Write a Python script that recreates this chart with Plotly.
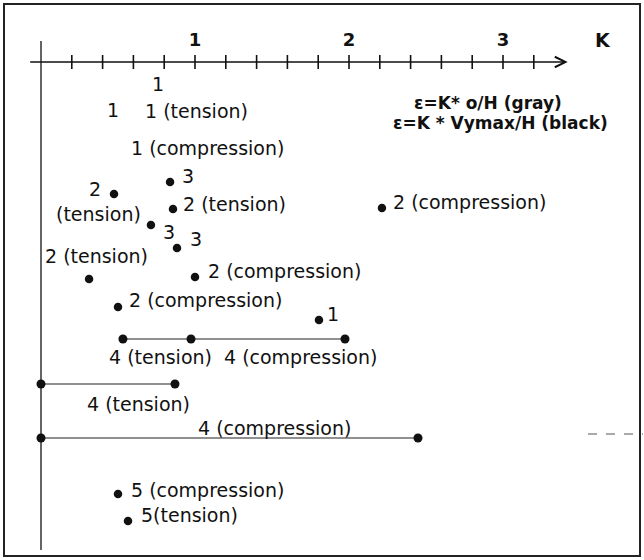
import plotly.graph_objects as go

# ---- data (K values on the horizontal axis, rows = vertical placement in the sketch) ----
tick_k = [0.2, 0.4, 0.6, 0.8, 1.0, 1.2, 1.4, 1.6, 1.8, 2.0, 2.2, 2.4, 2.6, 2.8, 3.0, 3.2]
major_vals = [1, 2, 3]
major_text = ["1", "2", "3"]
axis_row = 62
axis_start_k = -0.08
axis_end_k = 3.42
vline_rows = [41, 550]

dot_k = [0.838, 0.474, 0.857, 2.214, 0.714, 0.883, 0.312, 1.0, 0.5, 1.805, 0.5, 0.565]
dot_rows = [182, 194, 209, 208, 225, 248, 279, 277, 307, 320, 494, 521]

seg1_k = [0.532, 0.974, 1.974]
seg1_row = 339
seg2_k = [0.0, 0.87]
seg2_row = 384
seg3_k = [0.0, 2.448]
seg3_row = 438

label_text = ["1", "1", "1 (tension)", "1 (compression)", "3", "2", "(tension)",
              "2 (tension)", "2 (compression)", "3", "3", "2 (tension)",
              "2 (compression)", "2 (compression)", "1",
              "4 (tension)", "4 (compression)", "4 (tension)", "4 (compression)",
              "5 (compression)", "5(tension)"]
label_k = [0.76, 0.468, 0.66, 0.57, 0.9, 0.405, 0.66,
           0.91, 2.27, 0.78, 0.955, 0.708,
           1.07, 0.56, 1.845,
           0.43, 1.175, 0.283, 1.008,
           0.573, 0.638]
label_rows = [84, 110, 111, 148, 176, 189, 214,
              204, 202, 232, 239, 256,
              271, 300, 314,
              357, 357, 404, 428,
              490, 515]
label_anchor = ["center", "center", "left", "left", "left", "right", "right",
                "left", "left", "left", "left", "right",
                "left", "left", "left",
                "left", "left", "left", "left",
                "left", "left"]

legend_lines = ["ε=K* o/H (gray)", "ε=K * Vymax/H (black)"]
legend_k = [2.9, 2.985]
legend_rows = [103, 123]

W, H = 644, 560
FONT = "DejaVu Sans"
INK = "#111111"

fig = go.Figure()

# vertical reference line
fig.add_trace(go.Scatter(x=[0, 0], y=vline_rows, mode="lines",
                         line=dict(color=INK, width=1.3), hoverinfo="skip"))
# tick marks across the K axis
fig.add_trace(go.Scatter(x=tick_k, y=[axis_row] * len(tick_k), mode="markers",
                         marker=dict(symbol="line-ns", size=10,
                                     line=dict(color=INK, width=1.6)),
                         hoverinfo="skip"))
# segments
for ks, r in [(seg1_k, seg1_row), (seg2_k, seg2_row), (seg3_k, seg3_row)]:
    fig.add_trace(go.Scatter(x=ks, y=[r] * len(ks), mode="lines+markers",
                             line=dict(color="#222222", width=1.2),
                             marker=dict(color=INK, size=9)))
# single dots
fig.add_trace(go.Scatter(x=dot_k, y=dot_rows, mode="markers",
                         marker=dict(color=INK, size=8.5)))

ann = []
# K axis line with arrow
ann.append(dict(x=axis_end_k, y=axis_row, ax=axis_start_k, ay=axis_row,
                xref="x", yref="y", axref="x", ayref="y", text="",
                showarrow=True, arrowhead=5, arrowsize=1.3, arrowwidth=1.6,
                arrowcolor=INK, standoff=0, startstandoff=0))
ann.append(dict(x=3.65, y=40, xref="x", yref="y", text="<b>K</b>", showarrow=False,
                font=dict(family=FONT, size=19, color=INK)))
for t, k, r, a in zip(label_text, label_k, label_rows, label_anchor):
    ann.append(dict(x=k, y=r, xref="x", yref="y", text=t, showarrow=False,
                    xanchor=a, yanchor="middle",
                    font=dict(family=FONT, size=19, color=INK)))
for t, k, r in zip(legend_lines, legend_k, legend_rows):
    ann.append(dict(x=k, y=r, xref="x", yref="y", text="<b>" + t + "</b>",
                    showarrow=False, xanchor="center", yanchor="middle",
                    font=dict(family=FONT, size=17, color=INK)))

shapes = [
    dict(type="rect", xref="paper", yref="paper", x0=4 / W, x1=640 / W,
         y0=1 - 556 / H, y1=1 - 4 / H, line=dict(color="#222222", width=2)),
    dict(type="line", xref="paper", yref="paper", x0=588 / W, x1=643 / W,
         y0=1 - 434 / H, y1=1 - 434 / H, line=dict(color="#555555", width=1, dash="dash")),
]

x_lo = -41 / 154
x_hi = (W - 41) / 154
fig.update_layout(
    width=W, height=H, margin=dict(l=0, r=0, t=0, b=0),
    paper_bgcolor="white", plot_bgcolor="white", showlegend=False,
    annotations=ann, shapes=shapes,
    xaxis=dict(range=[x_lo, x_hi], showgrid=False, zeroline=False, showline=False,
               tickvals=major_vals, ticktext=major_text, ticks="",
               side="top", anchor="free", position=1 - axis_row / H,
               ticklabelstandoff=12,
               tickfont=dict(family=FONT, size=18, color=INK, weight="bold")),
    yaxis=dict(range=[H, 0], visible=False),
)

fig.write_html("out.html", config={"displayModeBar": False, "staticPlot": True},
               post_script="document.body.style.margin='0';document.body.style.overflow='hidden';")
